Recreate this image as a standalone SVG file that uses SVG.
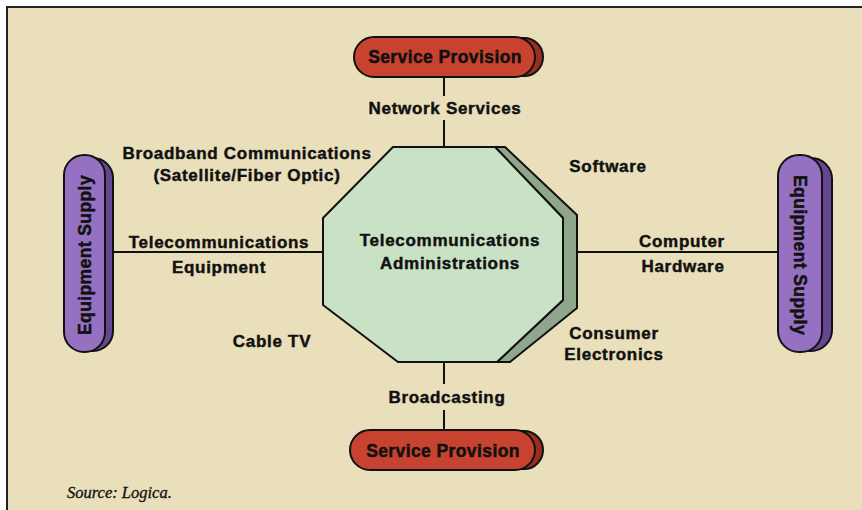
<svg xmlns="http://www.w3.org/2000/svg" width="862" height="510" viewBox="0 0 862 510">
<style>
.lbl{font-family:"Liberation Sans",Arial,sans-serif;font-weight:bold;font-size:17px;letter-spacing:0.7px;fill:#111;stroke:#111;stroke-width:0.45px;text-anchor:middle}
.pill{font-family:"Liberation Sans",Arial,sans-serif;font-weight:bold;font-size:17.5px;letter-spacing:0.4px;fill:#111;stroke:#111;stroke-width:0.5px;text-anchor:middle}
.red{fill:#C8432F;stroke:#111;stroke-width:2}
.reds{fill:#9A2E22;stroke:#111;stroke-width:2}
.pur{fill:#9671C2;stroke:#111;stroke-width:2}
.purs{fill:#65478F;stroke:#111;stroke-width:2}
.con{stroke:#111;stroke-width:2;fill:none}
</style>
<rect x="0" y="0" width="862" height="510" fill="#ffffff"/>
<rect x="7" y="7" width="855" height="503" fill="#E9DFBA"/>
<path d="M7,510 V7 H862" fill="none" stroke="#222" stroke-width="2"/>
<g id="connectors">
<line class="con" x1="444" y1="77" x2="444" y2="96"/>
<line class="con" x1="444" y1="120" x2="444" y2="148"/>
<line class="con" x1="444" y1="362" x2="444" y2="384"/>
<line class="con" x1="444" y1="410" x2="444" y2="430"/>
<line class="con" x1="113" y1="252" x2="323" y2="252"/>
<line class="con" x1="577" y1="252" x2="778" y2="252"/>
</g>
<g id="center">
<polygon points="505,147 577,215 577,308 510,362 497,362 563,300 563,218 495,147" fill="#8FA68C" stroke="#111" stroke-width="2" stroke-linejoin="round"/>
<polygon points="393,147 495,147 563,218 563,300 497,362 398,362 323,305 323,218" fill="#C9E1C4" stroke="#111" stroke-width="2" stroke-linejoin="round"/>
<text class="lbl" x="450" y="246">Telecommunications</text>
<text class="lbl" x="450" y="269">Administrations</text>
</g>
<g id="sp-top">
<rect class="reds" x="362" y="38" width="181" height="38" rx="19"/>
<rect class="red" x="354" y="37" width="181" height="40" rx="20"/>
<text class="pill" x="445" y="63">Service Provision</text>
</g>
<g id="sp-bottom">
<rect class="reds" x="358" y="431" width="185" height="38" rx="19"/>
<rect class="red" x="350" y="430" width="185" height="40" rx="20"/>
<text class="pill" x="443" y="457">Service Provision</text>
</g>
<g id="eq-left">
<rect class="purs" x="72" y="158" width="41" height="193" rx="20"/>
<rect class="pur" x="64" y="155" width="41" height="197" rx="20"/>
<text class="pill" transform="translate(91,255) rotate(-90)">Equipment Supply</text>
</g>
<g id="eq-right">
<rect class="purs" x="788" y="158" width="44" height="193" rx="21"/>
<rect class="pur" x="778" y="155" width="44" height="197" rx="21"/>
<text class="pill" transform="translate(794,255) rotate(90)">Equipment Supply</text>
</g>
<g id="labels">
<text class="lbl" x="445" y="114">Network Services</text>
<text class="lbl" x="247" y="159">Broadband Communications</text>
<text class="lbl" x="247" y="181">(Satellite/Fiber Optic)</text>
<text class="lbl" x="608" y="172">Software</text>
<text class="lbl" x="219" y="248">Telecommunications</text>
<text class="lbl" x="219" y="273">Equipment</text>
<text class="lbl" x="682" y="247">Computer</text>
<text class="lbl" x="683" y="272">Hardware</text>
<text class="lbl" x="272" y="347">Cable TV</text>
<text class="lbl" x="614" y="339">Consumer</text>
<text class="lbl" x="614" y="360">Electronics</text>
<text class="lbl" x="447" y="403">Broadcasting</text>
</g>
<text x="67" y="498" font-family="Liberation Serif,Times New Roman,serif" font-style="italic" font-size="16.5" fill="#111" stroke="#111" stroke-width="0.3">Source: Logica.</text>
</svg>
